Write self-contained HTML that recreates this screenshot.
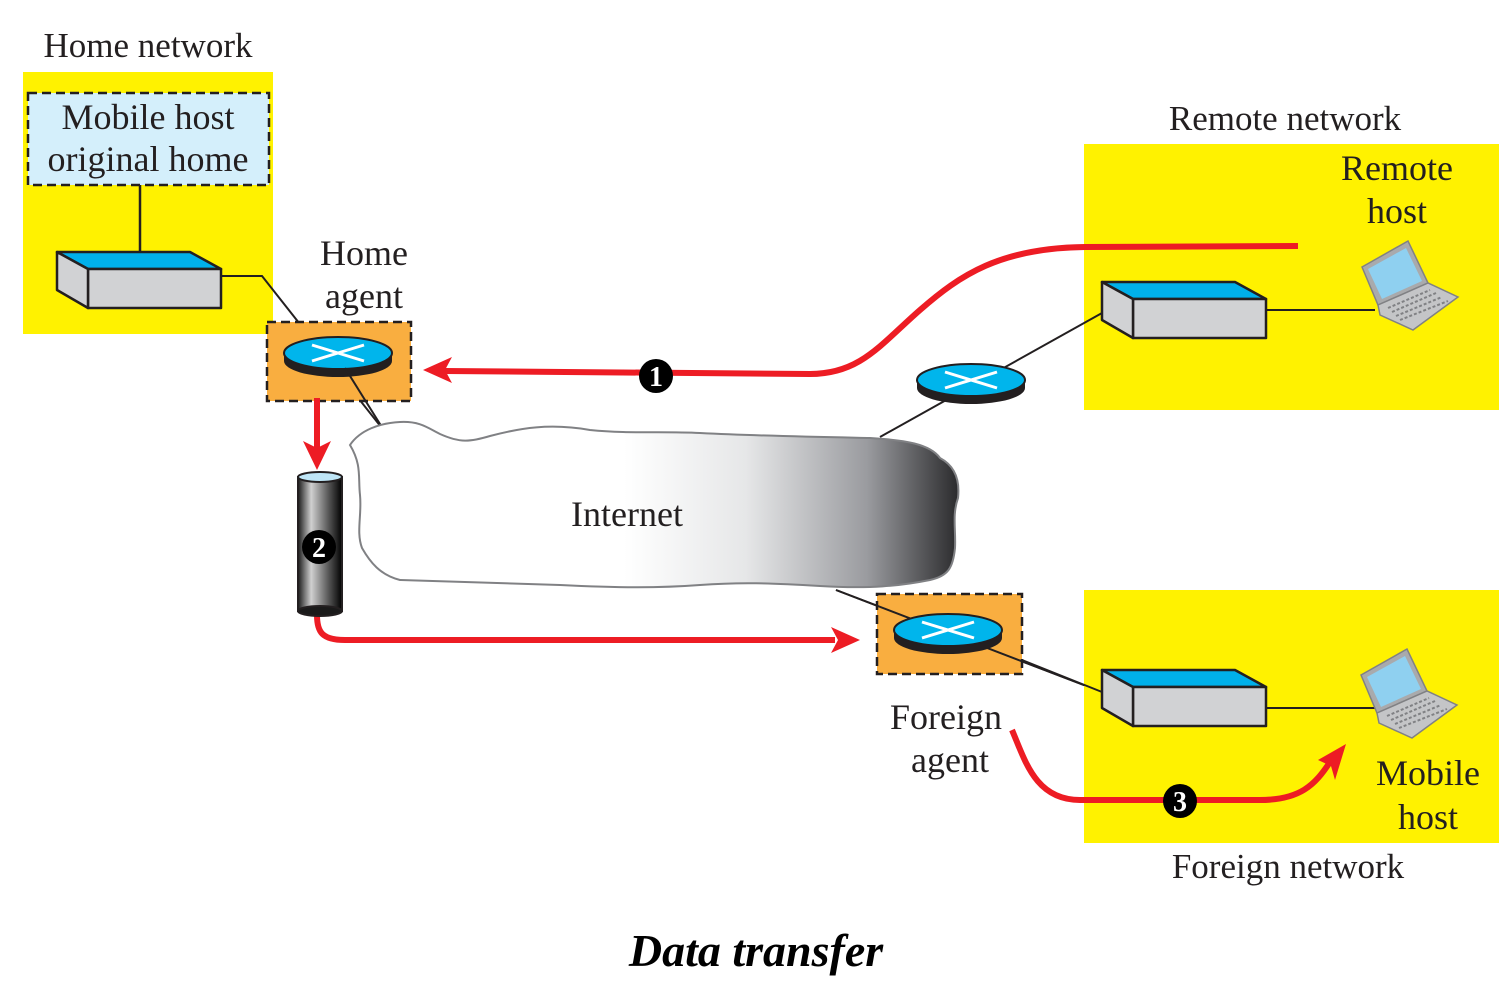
<!DOCTYPE html>
<html><head><meta charset="utf-8"><style>
html,body{margin:0;padding:0;background:#fff;}
svg{display:block;}
text{font-family:"Liberation Serif",serif;fill:#231f20;}
</style></head><body>
<svg width="1502" height="1000" viewBox="0 0 1502 1000" xmlns="http://www.w3.org/2000/svg">
<defs>
<linearGradient id="cg" x1="0" x2="1" y1="0" y2="0">
<stop offset="0" stop-color="#fff"/><stop offset="0.45" stop-color="#fff"/><stop offset="0.65" stop-color="#e6e7e8"/><stop offset="0.85" stop-color="#9a9b9f"/><stop offset="1" stop-color="#2b2b2d"/>
</linearGradient>
<linearGradient id="cyl" x1="0" x2="1" y1="0" y2="0">
<stop offset="0" stop-color="#1a1a1a"/><stop offset="0.3" stop-color="#d0d0d0"/><stop offset="0.7" stop-color="#555"/><stop offset="1" stop-color="#000"/>
</linearGradient>
<g id="router">
<ellipse cx="0" cy="8" rx="54" ry="16" fill="#231f20"/>
<rect x="-54" y="0" width="108" height="8" fill="#231f20"/>
<ellipse cx="0" cy="0" rx="54" ry="16" fill="#00b5ec" stroke="#231f20" stroke-width="2"/>
<path d="M-26,-8 L26,8 M-26,8 L26,-8" stroke="#fff" stroke-width="3"/>
</g>
<g id="sw" stroke="#231f20" stroke-width="2.5" stroke-linejoin="round">
<polygon points="0,0 133,0 164,17 31,17" fill="#00b0ea"/>
<polygon points="31,17 164,17 164,56 31,56" fill="#d1d2d4"/>
<polygon points="0,0 31,17 31,56 0,38" fill="#d1d2d4"/>
</g>
<g id="laptop">
<polygon points="0,27 46,1 66,43 16,65" fill="#a9aaac" stroke="#808184" stroke-width="1.5"/>
<polygon points="6,29 44,8 60,41 20,59" fill="#8fd0f0"/>
<polygon points="16,65 66,43 96,57 51,90 18,75" fill="#c4c5c7" stroke="#808184" stroke-width="1.5"/>
<path d="M26,68 L68,50 M30,72 L74,53 M34,76 L80,57 M38,80 L86,61" stroke="#808184" stroke-width="2" stroke-dasharray="3,2"/>
</g>
</defs>

<text x="148" y="57" font-size="35" text-anchor="middle">Home network</text>
<rect x="23" y="72" width="250" height="262" fill="#fff200"/>
<rect x="28" y="93" width="241" height="92" fill="#d4effb" stroke="#231f20" stroke-width="2.5" stroke-dasharray="9,5"/>
<text x="148" y="129" font-size="36" text-anchor="middle">Mobile host</text>
<text x="148" y="171" font-size="36" text-anchor="middle">original home</text>
<line x1="140" y1="185" x2="140" y2="262" stroke="#231f20" stroke-width="2.5"/>
<use href="#sw" x="57" y="252"/>
<polyline points="221,276 262,276 385,432" fill="none" stroke="#231f20" stroke-width="2"/>

<text x="364" y="265" font-size="36" text-anchor="middle">Home</text>
<text x="364" y="308" font-size="36" text-anchor="middle">agent</text>
<rect x="267" y="322" width="144" height="79" fill="#f9ae40" stroke="#231f20" stroke-width="2.5" stroke-dasharray="9,5"/>
<use href="#router" x="338" y="353"/>
<line x1="345" y1="368" x2="385" y2="432" stroke="#231f20" stroke-width="2"/>

<text x="1285" y="130" font-size="35" text-anchor="middle">Remote network</text>
<rect x="1084" y="144" width="415" height="266" fill="#fff200"/>
<text x="1397" y="180" font-size="36" text-anchor="middle">Remote</text>
<text x="1397" y="223" font-size="36" text-anchor="middle">host</text>
<line x1="1265" y1="310" x2="1375" y2="310" stroke="#231f20" stroke-width="2"/>
<use href="#laptop" x="1362" y="240"/>
<line x1="880" y1="437" x2="1102" y2="313" stroke="#231f20" stroke-width="2"/>
<use href="#sw" x="1102" y="282"/>
<use href="#router" x="971" y="380"/>

<path d="M350,445 C360,430 380,423 400,422 C420,421 428,428 440,434 C460,443 470,442 490,436 C520,428 550,423 590,430 C630,434 660,431 700,433 C760,436 820,437 870,438 C905,440 930,444 940,458 C955,466 960,480 958,498 C952,515 956,530 955,548 C953,568 948,576 930,580 C900,586 870,589 820,586 C770,583 740,582 700,585 C660,588 620,588 560,585 C500,583 450,582 400,580 C380,575 370,562 362,548 C356,532 362,515 360,495 C358,478 362,465 350,445 Z" fill="url(#cg)" stroke="#808184" stroke-width="2"/>
<text x="627" y="526" font-size="36" text-anchor="middle">Internet</text>

<line x1="836" y1="590" x2="1102" y2="692" stroke="#231f20" stroke-width="2"/>
<rect x="877" y="594" width="145" height="80" fill="#f9ae40" stroke="#231f20" stroke-width="2.5" stroke-dasharray="9,5"/>
<line x1="836" y1="590" x2="1102" y2="692" stroke="#231f20" stroke-width="2"/>
<use href="#router" x="948" y="630"/>
<text x="946" y="729" font-size="36" text-anchor="middle">Foreign</text>
<text x="950" y="772" font-size="36" text-anchor="middle">agent</text>

<rect x="1084" y="590" width="415" height="253" fill="#fff200"/>
<line x1="1022" y1="660" x2="1102" y2="692" stroke="#231f20" stroke-width="2"/>
<line x1="1265" y1="708" x2="1375" y2="708" stroke="#231f20" stroke-width="2"/>
<use href="#sw" x="1102" y="670"/>
<use href="#laptop" x="1361" y="648"/>
<text x="1428" y="785" font-size="36" text-anchor="middle">Mobile</text>
<text x="1428" y="829" font-size="36" text-anchor="middle">host</text>
<text x="1288" y="878" font-size="35" text-anchor="middle">Foreign network</text>

<g fill="none" stroke="#ed1c24" stroke-width="6">
<path d="M1298,246 L1085,247 C1000,248 960,275 920,310 C880,345 860,374 810,374 L445,371"/>
<path d="M317,398 L317,452"/>
<path d="M317,615 C317,632 322,640 345,640 L835,640"/>
<path d="M1012,730 C1025,760 1035,800 1080,800 L1260,800 C1300,800 1315,785 1330,762"/>
</g>
<g fill="#ed1c24">
<polygon points="423,370 452,357 445,370 452,383"/>
<polygon points="317,470 303,441 317,448 331,441"/>
<polygon points="860,640 831,627 838,640 831,653"/>
<polygon points="1346,744 1318,760 1331,766 1335,780"/>
</g>

<rect x="298" y="477" width="44" height="134" fill="url(#cyl)" stroke="#231f20" stroke-width="2"/>
<ellipse cx="320" cy="611" rx="22" ry="5" fill="#1a1a1a" stroke="#231f20" stroke-width="2"/>
<ellipse cx="320" cy="477" rx="22" ry="5" fill="#bfe6f7" stroke="#231f20" stroke-width="2"/>

<g font-weight="bold" font-size="28" text-anchor="middle">
<circle cx="656" cy="376" r="17" fill="#000"/><text x="656" y="386" style="fill:#fff">1</text>
<circle cx="319" cy="547" r="17" fill="#000"/><text x="319" y="557" style="fill:#fff">2</text>
<circle cx="1180" cy="801" r="17" fill="#000"/><text x="1180" y="811" style="fill:#fff">3</text>
</g>

<text x="756" y="966" font-size="46" font-weight="bold" font-style="italic" text-anchor="middle" style="fill:#000">Data transfer</text>
</svg>
</body></html>
